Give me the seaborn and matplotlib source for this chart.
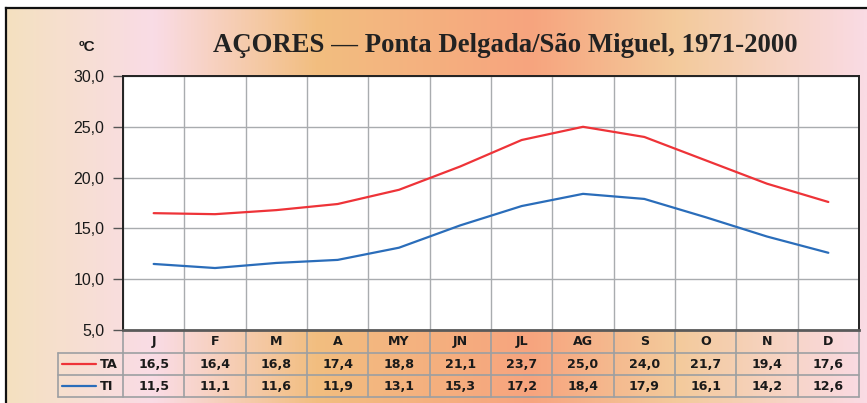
import numpy as np
import pandas as pd
import matplotlib
matplotlib.use("Agg")
import matplotlib.pyplot as plt
import matplotlib.transforms as mtransforms
from matplotlib.colors import LinearSegmentedColormap
from matplotlib.ticker import FuncFormatter
import seaborn as sns

# ---- data ----
months = ["J", "F", "M", "A", "MY", "JN", "JL", "AG", "S", "O", "N", "D"]
ta = [16.5, 16.4, 16.8, 17.4, 18.8, 21.1, 23.7, 25.0, 24.0, 21.7, 19.4, 17.6]
ti = [11.5, 11.1, 11.6, 11.9, 13.1, 15.3, 17.2, 18.4, 17.9, 16.1, 14.2, 12.6]
series_names = ["TA", "TI"]
y_ticks = [5, 10, 15, 20, 25, 30]
title = "AÇORES — Ponta Delgada/São Miguel, 1971-2000"
unit = "ºC"

sns.set_theme(style="white")
plt.rcParams["font.family"] = ["Liberation Sans", "DejaVu Sans"]

W, H = 867, 403
fig = plt.figure(figsize=(W / 100, H / 100), dpi=100)
fig.patch.set_facecolor("white")

# ---- background gradient panel ----
bg = fig.add_axes([6 / W, 0, 1 - 6 / W, (H - 8) / H], zorder=-5)
cmap = LinearSegmentedColormap.from_list(
    "bgrad",
    [(0.0, "#F4E1C0"), (0.17, "#FADCE6"), (0.36, "#F2BE80"),
     (0.61, "#F7A47E"), (0.78, "#F3CA9B"), (1.0, "#FADBE4")])
grad = np.linspace(0, 1, 512)[None, :]
bg.imshow(grad, aspect="auto", cmap=cmap, extent=[0, 1, 0, 1])
bg.set_xlim(0, 1); bg.set_ylim(0, 1)
bg.set_xticks([]); bg.set_yticks([])
for s in ["right", "bottom"]:
    bg.spines[s].set_visible(False)
for s in ["left", "top"]:
    bg.spines[s].set_color("#111111")
    bg.spines[s].set_linewidth(1.6)

# ---- main axes ----
ax = fig.add_axes([123 / W, (H - 330) / H, 736 / W, 254 / H])
ax.set_facecolor("white")

df = pd.DataFrame({
    "idx": list(range(len(months))) * 2,
    "val": ta + ti,
    "series": [series_names[0]] * len(months) + [series_names[1]] * len(months),
})
palette = {"TA": "#EE3338", "TI": "#2A6DBA"}
sns.lineplot(data=df, x="idx", y="val", hue="series", palette=palette,
             legend=False, ax=ax, linewidth=1.6, zorder=3)

ax.set_xlim(-0.5, len(months) - 0.5)
ax.set_ylim(y_ticks[0], y_ticks[-1])
ax.set_xlabel(""); ax.set_ylabel("")
ax.set_xticks(np.arange(-0.5, len(months), 1))
ax.set_xticklabels([])
ax.tick_params(axis="x", length=0)
ax.set_yticks(y_ticks)
ax.yaxis.set_major_formatter(FuncFormatter(lambda v, p: f"{v:.1f}".replace(".", ",")))
ax.tick_params(axis="y", length=7.5, width=1.0, color="#555555", pad=6,
               labelsize=11.5, labelcolor="#1a1a1a", left=True)
ax.grid(True, color="#A9ACAF", linewidth=1.0, zorder=0)
for s in ["left", "top", "right"]:
    ax.spines[s].set_color("#222222")
    ax.spines[s].set_linewidth(1.4)
ax.spines["bottom"].set_color("#5a5a5a")
ax.spines["bottom"].set_linewidth(2.0)

# ---- table below the axes ----
trans = mtransforms.blended_transform_factory(ax.transData, ax.transAxes)
tcol = "#9C9FA2"
row_month, row_ta, row_ti = -0.0906, -0.177, -0.264
lab_left = -0.0883

for i in range(len(months) + 1):
    ax.plot([i - 0.5, i - 0.5], [0, row_ti], transform=trans, color=tcol,
            linewidth=1.2, clip_on=False, zorder=1)
for yy in [row_month, row_ta, row_ti]:
    ax.plot([lab_left, 1], [yy, yy], transform=ax.transAxes, color=tcol,
            linewidth=1.2, clip_on=False, zorder=1)
ax.plot([lab_left, lab_left], [row_month, row_ti], transform=ax.transAxes,
        color=tcol, linewidth=1.2, clip_on=False, zorder=1)

tfont = dict(fontsize=9.1, fontweight="bold", color="#1a1a1a",
             family=["DejaVu Sans"], ha="center", va="center", clip_on=False)
for i, m in enumerate(months):
    ax.text(i, -0.0453, m, transform=trans, **tfont)
    ax.text(i, -0.134, f"{ta[i]:.1f}".replace(".", ","), transform=trans, **tfont)
    ax.text(i, -0.2205, f"{ti[i]:.1f}".replace(".", ","), transform=trans, **tfont)

for name, yc in [("TA", -0.134), ("TI", -0.2205)]:
    ax.plot([-0.0829, -0.0367], [yc, yc], transform=ax.transAxes,
            color=palette[name], linewidth=1.6, clip_on=False)
    ax.text(-0.0312, yc, name, transform=ax.transAxes, fontsize=9.3,
            fontweight="bold", family=["DejaVu Sans"], color="#1a1a1a",
            ha="left", va="center")

# ---- titles ----
fig.text(505 / W, 1 - 46 / H, title, ha="center", va="center",
         family=["Liberation Serif", "DejaVu Serif"], fontweight="bold",
         fontsize=19.3, color="#222222")
fig.text(87 / W, 1 - 47 / H, unit, ha="center", va="center",
         fontsize=11, fontweight="bold", color="#1a1a1a")

fig.savefig("out.png", dpi=100)
